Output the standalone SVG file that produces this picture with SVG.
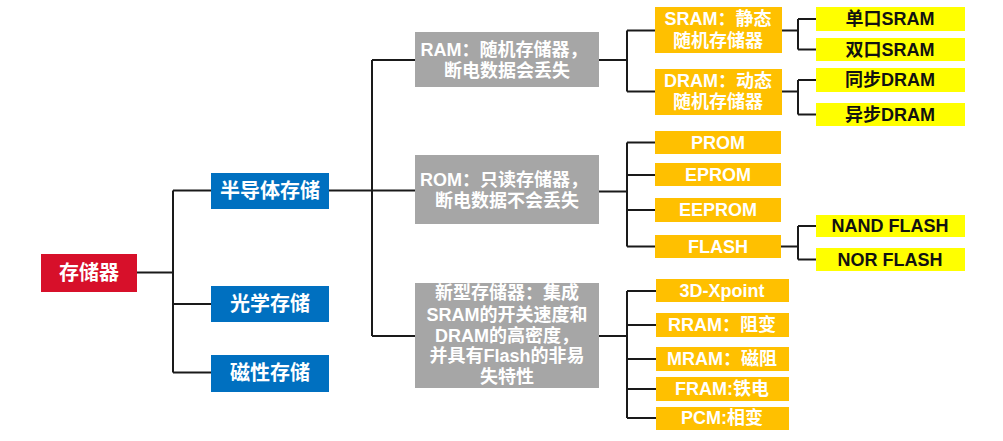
<svg xmlns="http://www.w3.org/2000/svg" width="1003" height="441" viewBox="0 0 1003 441">
<style>
text{font-family:"Liberation Sans","Noto Sans CJK SC",sans-serif;font-weight:bold;text-anchor:middle;dominant-baseline:central}
.red{fill:#d7102a}.blue{fill:#0070c0}.gray{fill:#a6a6a6}.org{fill:#ffc000}.yel{fill:#ffff00}
.w{fill:#fff}.k{fill:#111}
.l1{font-size:20px}.l2{font-size:18px}.l3{font-size:18px}
#connectors path{fill:none;stroke:#1a1a1a;stroke-width:2}
</style>
<rect width="1003" height="441" fill="#fff"/>
<g id="connectors">
<path d="M137,272.5H173M173,190.5V372.5M173,190.5H211M173,304H211M173,372.5H211"/>
<path d="M329,190.5H415M372,60V336M372,60H415M372,336H415"/>
<path d="M599,60H627M627,30.5V91.5M627,30.5H655M627,91.5H655"/>
<path d="M781,30.5H798M798,19V49.5M798,19H816M798,49.5H816"/>
<path d="M781,91.5H798M798,80V114.5M798,80H816M798,114.5H816"/>
<path d="M599,191.5H627M627,142.5V246.5M627,142.5H655M627,175H655M627,210H655M627,246.5H655"/>
<path d="M781,246.5H798M798,226V259.5M798,226H816M798,259.5H816"/>
<path d="M599,336H627M627,291V418M627,291H656M627,325H656M627,359H656M627,389H656M627,418H656"/>
</g>
<g id="n-root"><rect class="red" x="41" y="254" width="96" height="38"/><text class="w l1" x="89" y="273">存储器</text></g>
<g id="n-semi"><rect class="blue" x="211" y="173" width="118" height="36"/><text class="w l1" x="270" y="191">半导体存储</text></g>
<g id="n-opt"><rect class="blue" x="211" y="286" width="118" height="36"/><text class="w l1" x="270" y="304">光学存储</text></g>
<g id="n-mag"><rect class="blue" x="211" y="355" width="118" height="37"/><text class="w l1" x="270" y="373">磁性存储</text></g>
<g id="n-ram"><rect class="gray" x="415" y="32" width="184" height="55"/><text class="w l2" x="504" y="49.5">RAM：随机存储器，</text><text class="w l2" x="507" y="70.5">断电数据会丢失</text></g>
<g id="n-rom"><rect class="gray" x="415" y="155" width="184" height="69"/><text class="w l2" x="504" y="180">ROM：只读存储器，</text><text class="w l2" x="507" y="201">断电数据不会丢失</text></g>
<g id="n-new"><rect class="gray" x="415" y="283" width="184" height="105"/>
<text class="w l2" x="507" y="293">新型存储器：集成</text>
<text class="w l2" x="507" y="315">SRAM的开关速度和</text>
<text class="w l2" x="507" y="336">DRAM的高密度，</text>
<text class="w l2" x="507" y="356">并具有Flash的非易</text>
<text class="w l2" x="507" y="377">失特性</text></g>
<g id="n-sram"><rect class="org" x="655" y="7" width="127" height="46"/><text class="w l2" x="718" y="19">SRAM：静态</text><text class="w l2" x="718" y="41">随机存储器</text></g>
<g id="n-dram"><rect class="org" x="655" y="69" width="127" height="46"/><text class="w l2" x="718" y="81">DRAM：动态</text><text class="w l2" x="718" y="102">随机存储器</text></g>
<g id="n-prom"><rect class="org" x="655" y="131" width="126" height="23"/><text class="w l3" x="718" y="142.5">PROM</text></g>
<g id="n-eprom"><rect class="org" x="655" y="163" width="126" height="23"/><text class="w l3" x="718" y="175">EPROM</text></g>
<g id="n-eeprom"><rect class="org" x="655" y="198" width="126" height="24"/><text class="w l3" x="718" y="210">EEPROM</text></g>
<g id="n-flash"><rect class="org" x="655" y="235" width="126" height="23"/><text class="w l3" x="718" y="246.5">FLASH</text></g>
<g id="n-3dx"><rect class="org" x="656" y="279" width="133" height="23"/><text class="w l3" x="722" y="290.5">3D-Xpoint</text></g>
<g id="n-rram"><rect class="org" x="656" y="313" width="133" height="24"/><text class="w l3" x="722" y="325">RRAM：阻变</text></g>
<g id="n-mram"><rect class="org" x="656" y="347" width="133" height="24"/><text class="w l3" x="722" y="359">MRAM：磁阻</text></g>
<g id="n-fram"><rect class="org" x="656" y="377" width="133" height="24"/><text class="w l3" x="722" y="389">FRAM:铁电</text></g>
<g id="n-pcm"><rect class="org" x="656" y="407" width="133" height="23"/><text class="w l3" x="722" y="418">PCM:相变</text></g>
<g id="n-sp"><rect class="yel" x="816" y="7" width="149" height="24"/><text class="k l3" x="890" y="19">单口SRAM</text></g>
<g id="n-dp"><rect class="yel" x="816" y="38" width="149" height="23"/><text class="k l3" x="890" y="49.5">双口SRAM</text></g>
<g id="n-sync"><rect class="yel" x="816" y="68" width="149" height="24"/><text class="k l3" x="890" y="80">同步DRAM</text></g>
<g id="n-async"><rect class="yel" x="816" y="103" width="149" height="23"/><text class="k l3" x="890" y="114.5">异步DRAM</text></g>
<g id="n-nand"><rect class="yel" x="816" y="215" width="149" height="22"/><text class="k l3" x="890" y="226">NAND FLASH</text></g>
<g id="n-nor"><rect class="yel" x="816" y="248" width="149" height="23"/><text class="k l3" x="890" y="259.5">NOR FLASH</text></g>
</svg>
